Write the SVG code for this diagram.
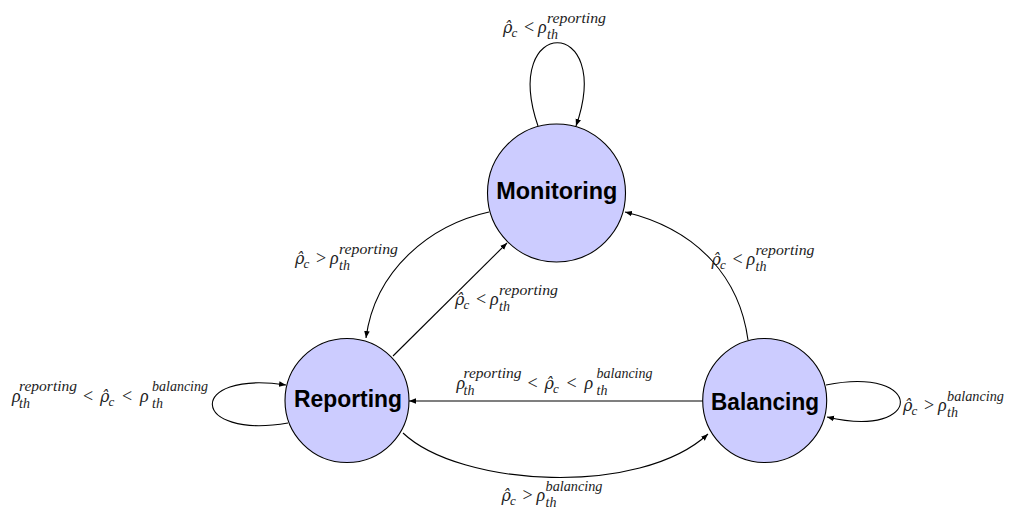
<svg xmlns="http://www.w3.org/2000/svg" width="1010" height="508" viewBox="0 0 1010 508">
<defs>
<marker id="arr" viewBox="0 0 10 10" refX="10" refY="5" markerWidth="7" markerHeight="7" markerUnits="userSpaceOnUse" orient="auto">
<path d="M0,1 L10,5 L0,9 Z" fill="#000"/>
</marker>
</defs>
<style>
.node circle{fill:#ccccff;stroke:#000;stroke-width:1.1}
.node text{font-family:"Liberation Sans",Arial,sans-serif;font-weight:bold;font-size:24.5px;fill:#000;text-anchor:middle}
.edges path{fill:none;stroke:#000;stroke-width:1.1;marker-end:url(#arr)}
.m{font-family:"Liberation Serif","Times New Roman",serif;font-style:italic;font-size:18px;fill:#222}
.op{font-style:normal}
.s{font-size:14px}
.c{font-size:13px}
.rh{font-family:"DejaVu Serif",serif;font-size:16px}
</style>
<rect width="1010" height="508" fill="#fff"/>

<g id="edges" class="edges">
<path d="M538,126 C500,15 615,15 576,126"/>
<path d="M489,212 C430,225 375,270 366,338"/>
<path d="M393,356 L507,243"/>
<path d="M748,340 C740,280 700,230 625,212"/>
<path d="M703,401 L409,401"/>
<path d="M403,433 C460,487 640,497 708,434"/>
<path d="M288,423 C190,440 185,370 286,385"/>
<path d="M826,385 C925,365 925,440 827,417"/>
</g>

<g id="monitoring" class="node">
<circle cx="556.5" cy="193" r="69"/>
<text x="556.8" y="199.3" textLength="121" lengthAdjust="spacingAndGlyphs">Monitoring</text>
</g>
<g id="reporting" class="node">
<circle cx="347" cy="400.5" r="62"/>
<text x="348" y="407.3" textLength="108" lengthAdjust="spacingAndGlyphs">Reporting</text>
</g>
<g id="balancing" class="node">
<circle cx="764.7" cy="400.5" r="62"/>
<text x="765" y="410" textLength="108" lengthAdjust="spacingAndGlyphs">Balancing</text>
</g>

<g id="labels">
<g id="label-mon-loop">
<text class="m"><tspan class="rh" x="503" y="33">ρ̂</tspan><tspan class="c" x="511.5" y="36.5">c</tspan><tspan class="op" x="524" y="33">&lt;</tspan><tspan x="538" y="33">ρ</tspan></text>
<text class="m s" x="547" y="23" textLength="59" lengthAdjust="spacingAndGlyphs">reporting</text>
<text class="m s" x="547" y="39">th</text>
</g>
<g id="label-mon-rep">
<text class="m"><tspan class="rh" x="295" y="264">ρ̂</tspan><tspan class="c" x="303.5" y="267.5">c</tspan><tspan class="op" x="316" y="264">&gt;</tspan><tspan x="330" y="264">ρ</tspan></text>
<text class="m s" x="339" y="254" textLength="59" lengthAdjust="spacingAndGlyphs">reporting</text>
<text class="m s" x="339" y="270">th</text>
</g>
<g id="label-rep-mon">
<text class="m"><tspan class="rh" x="455" y="305">ρ̂</tspan><tspan class="c" x="463.5" y="308.5">c</tspan><tspan class="op" x="476" y="305">&lt;</tspan><tspan x="490" y="305">ρ</tspan></text>
<text class="m s" x="499" y="295" textLength="59" lengthAdjust="spacingAndGlyphs">reporting</text>
<text class="m s" x="499" y="311">th</text>
</g>
<g id="label-bal-mon">
<text class="m"><tspan class="rh" x="711.5" y="265">ρ̂</tspan><tspan class="c" x="720" y="268.5">c</tspan><tspan class="op" x="732.5" y="265">&lt;</tspan><tspan x="746.5" y="265">ρ</tspan></text>
<text class="m s" x="755.5" y="255" textLength="59" lengthAdjust="spacingAndGlyphs">reporting</text>
<text class="m s" x="755.5" y="271">th</text>
</g>
<g id="label-rep-loop">
<text class="m"><tspan x="12" y="402">ρ</tspan><tspan class="op" x="83" y="402">&lt;</tspan><tspan class="rh" x="100" y="402">ρ̂</tspan><tspan class="c" x="108.5" y="405.5">c</tspan><tspan class="op" x="122" y="402">&lt;</tspan><tspan x="140" y="402">ρ</tspan></text>
<text class="m s" x="19" y="391" textLength="58" lengthAdjust="spacingAndGlyphs">reporting</text>
<text class="m s" x="19" y="408">th</text>
<text class="m s" x="152" y="391" textLength="56" lengthAdjust="spacingAndGlyphs">balancing</text>
<text class="m s" x="152" y="408">th</text>
</g>
<g id="label-bal-rep">
<text class="m"><tspan x="456.5" y="389">ρ</tspan><tspan class="op" x="527.5" y="389">&lt;</tspan><tspan class="rh" x="544.5" y="389">ρ̂</tspan><tspan class="c" x="553" y="392.5">c</tspan><tspan class="op" x="566.5" y="389">&lt;</tspan><tspan x="584.5" y="389">ρ</tspan></text>
<text class="m s" x="463.5" y="378" textLength="58" lengthAdjust="spacingAndGlyphs">reporting</text>
<text class="m s" x="463.5" y="395">th</text>
<text class="m s" x="596.5" y="378" textLength="56" lengthAdjust="spacingAndGlyphs">balancing</text>
<text class="m s" x="596.5" y="395">th</text>
</g>
<g id="label-bal-loop">
<text class="m"><tspan class="rh" x="903" y="411">ρ̂</tspan><tspan class="c" x="911.5" y="414.5">c</tspan><tspan class="op" x="924" y="411">&gt;</tspan><tspan x="938" y="411">ρ</tspan></text>
<text class="m s" x="947" y="401" textLength="57" lengthAdjust="spacingAndGlyphs">balancing</text>
<text class="m s" x="947" y="417">th</text>
</g>
<g id="label-rep-bal">
<text class="m"><tspan class="rh" x="501.5" y="501">ρ̂</tspan><tspan class="c" x="510" y="504.5">c</tspan><tspan class="op" x="522.5" y="501">&gt;</tspan><tspan x="536.5" y="501">ρ</tspan></text>
<text class="m s" x="545.5" y="491" textLength="57" lengthAdjust="spacingAndGlyphs">balancing</text>
<text class="m s" x="545.5" y="507">th</text>
</g>
</g>
</svg>
